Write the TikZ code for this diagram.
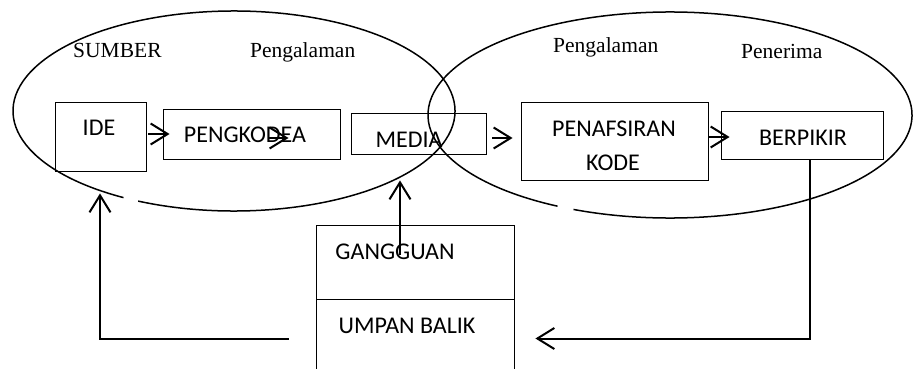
\documentclass[tikz,border=0pt]{standalone}
\usepackage{fontspec}
\setmainfont{Liberation Serif}
\newfontfamily\calfont{Carlito}
\usetikzlibrary{arrows.meta,calc}
\begin{document}
\begin{tikzpicture}[x=1pt,y=-1pt,
  box/.style={draw,line width=0.9pt,inner sep=0pt},
  sans/.style={font=\calfont\fontsize{24}{29}\selectfont,inner sep=0pt,anchor=base},
  serif/.style={font=\fontsize{21.5}{25}\selectfont,inner sep=0pt,anchor=base west},
  arr/.style={line width=2pt,-{Straight Barb[length=17pt,width=21pt,line width=2pt]}},
  ell/.style={line width=1.5pt}]
\useasboundingbox (0,0) rectangle (913,369);
\clip (0,0) rectangle (913,369);
% ellipses
\coordinate (lc) at (234,111);
\coordinate (rc) at (670,115);
\draw[ell] ($(lc)+(-115.7:221pt and 100pt)$) arc[start angle=-115.7, end angle=240, x radius=221pt, y radius=100pt];
\draw[ell] ($(rc)+(-113.5:242pt and 103pt)$) arc[start angle=-113.5, end angle=242.3, x radius=242pt, y radius=103pt];
% boxes
\node[box, minimum width=91pt, minimum height=69pt] (ide) at (100.5,136.5) {};
\node[box, minimum width=177pt, minimum height=50pt] (pengk) at (251.5,134) {};
\node[box, minimum width=135pt, minimum height=41pt] (media) at (418.5,133.5) {};
\node[box, minimum width=187pt, minimum height=78pt] (penaf) at (614.5,141) {};
\node[box, minimum width=162pt, minimum height=48pt] (berp) at (802,135) {};
\node[box, minimum width=198pt, minimum height=74pt] (gang) at (415,262) {};
\node[box, minimum width=198pt, minimum height=101pt] (umpan) at (415,349.5) {};
% box texts
\node[sans] (tide) at (99,135) {IDE};
\node[sans] (tpengk) at (245,142.7) {PENGKODEA};
\node[sans] (tmedia) at (409,147) {MEDIA};
\node[sans] (tpenaf) at (614,136) {PENAFSIRAN};
\node[sans] (tkode) at (613,170) {KODE};
\node[sans] (tberp) at (803,145.7) {BERPIKIR};
\node[sans] (tgang) at (395,259.3) {GANGGUAN};
\node[sans] (tumpan) at (407,333.3) {UMPAN BALIK};
% labels
\node[serif] (sumber) at (73,58) {SUMBER};
\node[serif] (pengL) at (250,58) {Pengalaman};
\node[serif] (pengR) at (553,53) {Pengalaman};
\node[serif] (pener) at (741,59) {Penerima};
% arrows
\draw[arr] ($(ide.east)+(2,-2.5)$) -- ($(ide.east -| pengk.west)+(7,-2.5)$);
\draw[arr] ($(pengk.center)+(17,4)$) -- ($(pengk.center)+(37,4)$);
\draw[arr] ($(media.east)+(6,4.5)$) -- ($(media.east -| penaf.west)+(-8,4.5)$);
\draw[arr] ($(penaf.east)+(0,-4)$) -- ($(penaf.east -| berp.west)+(9,-4)$);
\draw[arr] ($(gang.center)+(-15,-7)$) -- ($(media.south)+(-18.5,26)$);
\draw[arr] ($(berp.south)+(8,0)$) |- ($(umpan.east)+(21,-11)$);
\draw[arr] ($(umpan.west)+(-27,-11)$) -| ($(ide.south)+(-0.5,22)$);
\end{tikzpicture}
\end{document}
